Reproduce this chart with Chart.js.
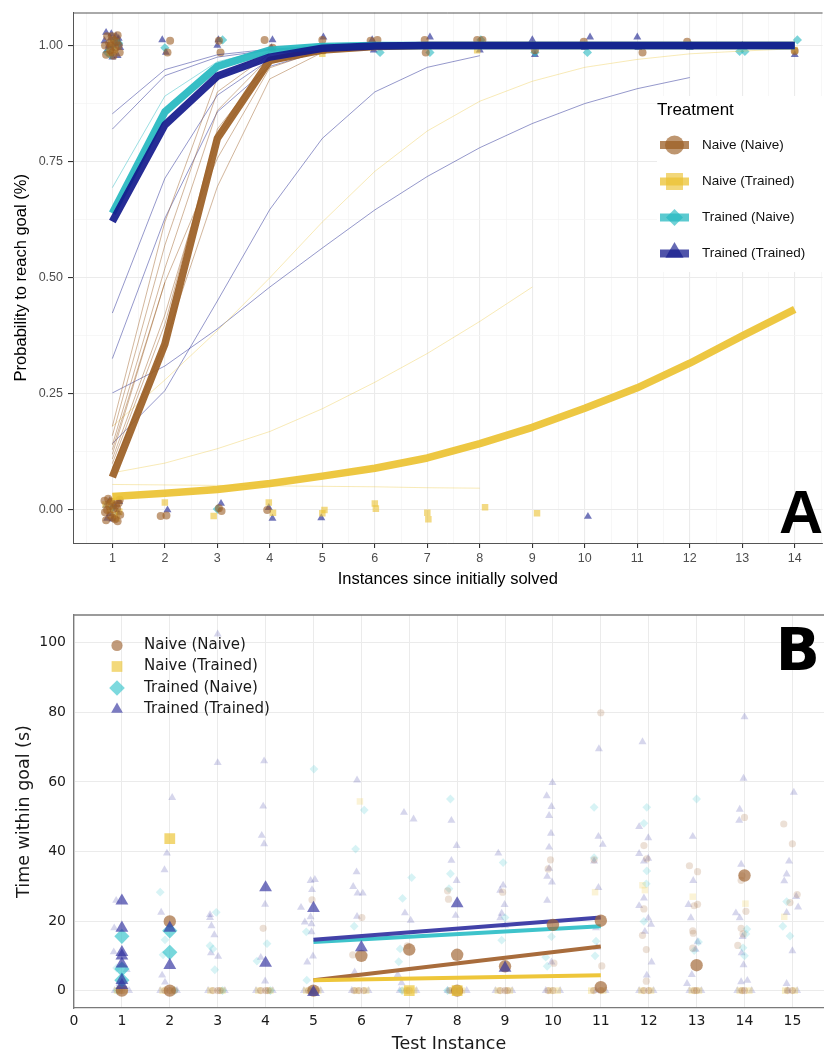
<!DOCTYPE html>
<html>
<head>
<meta charset="utf-8">
<script src="https://cdn.jsdelivr.net/npm/chart.js@4.4.1/dist/chart.umd.min.js"></script>
<style>
  html, body { margin: 0; padding: 0; background: #fff; }
  #wrap { position: relative; width: 824px; height: 1055px; }
  #boxA { position: absolute; left: 0; top: 0; }
  #boxB { position: absolute; left: 0; top: 592px; }
</style>
</head>
<body>
<div id="wrap">
  <div id="boxA"><canvas id="chartA" width="824" height="592"></canvas></div>
  <div id="boxB"><canvas id="chartB" width="824" height="463"></canvas></div>
</div>
<script>
// ---------------- data : panel A ----------------
const treatments = ['Naive (Naive)', 'Naive (Trained)', 'Trained (Naive)', 'Trained (Trained)'];
const instancesA = [1, 2, 3, 4, 5, 6, 7, 8, 9, 10, 11, 12, 13, 14];
const yTicksA = [0, 0.25, 0.5, 0.75, 1];

// model means, one value per instance (starting at 1)
const meanNaiveNaive = [0.071, 0.357, 0.80, 0.968, 0.99, 0.998, 1, 1, 1, 1, 1, 1, 1, 1];
const meanNaiveTrained = [0.029, 0.036, 0.044, 0.057, 0.073, 0.090, 0.112, 0.143, 0.178, 0.219, 0.263, 0.316, 0.375, 0.432];
const meanTrainedNaive = [0.639, 0.857, 0.955, 0.99, 0.998, 1, 1, 1, 1, 1, 1, 1, 1, 1];
const meanTrainedTrained = [0.621, 0.829, 0.934, 0.975, 0.994, 0.999, 1, 1, 1, 1, 1, 1, 1, 1];

// individual curves
const indivNaiveNaive = [
  [0.18, 0.62, 0.93, 0.988, 0.998, 1],
  [0.16, 0.57, 0.90, 0.982, 0.997],
  [0.14, 0.52, 0.86, 0.975, 0.995],
  [0.13, 0.49, 0.757, 0.952, 0.99],
  [0.11, 0.42, 0.80, 0.96, 0.993],
  [0.09, 0.36, 0.696, 0.928, 0.985],
  [0.12, 0.49],
  [0.10, 0.40, 0.82, 0.965]
];
const indivNaiveTrained = [
  [0.18, 0.28, 0.386, 0.50, 0.62, 0.729, 0.816, 0.88, 0.923, 0.953, 0.97, 0.982, 0.988, 0.993],
  [0.08, 0.101, 0.132, 0.169, 0.218, 0.275, 0.337, 0.406, 0.48],
  [0.055, 0.054, 0.053, 0.052, 0.051, 0.05, 0.048, 0.047]
];
const indivTrainedNaive = [
  [0.694, 0.891, 0.965, 0.992, 0.999, 1]
];
const indivTrainedTrained = [
  [0.853, 0.948, 0.98, 0.992, 0.998, 1],
  [0.82, 0.935, 0.975, 0.99, 0.997],
  [0.424, 0.714, 0.893, 0.97, 0.992, 0.998],
  [0.326, 0.628, 0.857, 0.955, 0.988],
  [0.252, 0.31, 0.39, 0.48, 0.564, 0.646, 0.718, 0.78, 0.832, 0.875, 0.907, 0.931],
  [0.143, 0.257, 0.45, 0.647, 0.80, 0.90, 0.953, 0.978]
];

// observed outcomes (jittered), [x, y]
const obsNaiveNaive = [
  [0.97,1.0],[1.03,1.012],[1.0,0.985],[1.06,0.995],[0.94,1.005],[1.02,0.978],[1.08,1.008],[0.99,1.02],[0.96,0.99],
  [0.86,1.0],[0.9,1.02],[1.12,1.0],[1.14,0.985],[0.88,0.98],[1.1,1.022],
  [2.1,1.01],[2.05,0.985],[3.03,1.01],[3.06,0.985],[3.9,1.012],[4.05,0.995],[5.0,1.012],[5.02,0.99],[5.92,1.01],
  [6.05,1.012],[6.95,1.012],[6.97,0.985],[7.95,1.012],[8.05,1.012],[9.05,0.99],[9.98,1.008],[11.1,0.985],[11.95,1.008],[14.0,0.988],
  [0.96,-0.012],[1.02,0.002],[1.05,-0.02],[0.98,0.018],[1.07,0.01],[1.0,-0.016],[0.94,0.008],
  [0.85,0.02],[0.88,-0.022],[1.12,0.015],[1.15,-0.01],[0.9,0.0],[1.1,-0.024],[0.86,-0.005],[1.14,0.022],[0.92,0.024],[1.09,0.004],
  [1.92,-0.013],[2.03,-0.012],[3.03,0.004],[3.08,-0.002],[3.95,0.0]
];
const obsNaiveTrained = [
  [0.98,1.005],[1.05,0.99],[0.95,0.985],[5.0,0.982],[7.95,0.99],[14.0,0.99],
  [0.97,0.015],[1.04,-0.01],[1.0,0.02],[1.08,-0.018],[0.95,0.0],[0.87,0.012],[1.13,-0.004],
  [2.0,0.016],[2.93,-0.013],[3.98,0.016],[4.06,-0.006],[5.04,0.0],[5.0,-0.007],[6.0,0.014],[6.02,0.003],
  [7.0,-0.006],[7.02,-0.02],[8.1,0.006],[9.09,-0.007]
];
const obsTrainedNaive = [
  [0.96,0.98],[1.04,1.01],[1.0,0.995],[0.9,0.985],[1.12,1.005],[2.0,0.995],[3.1,1.012],[6.1,0.985],[7.05,0.985],[8.02,1.012],[9.05,0.985],
  [10.05,0.985],[12.02,1.0],[12.95,0.987],[13.05,0.987],[14.05,1.012],[1.0,0.005],[3.0,0.002]
];
const obsTrainedTrained = [
  [0.98,1.025],[1.02,1.0],[0.93,1.0],[1.07,1.02],[1.0,0.975],[1.05,1.005],[0.97,1.015],
  [0.85,1.01],[0.9,0.99],[1.12,1.015],[1.15,0.995],[0.88,1.028],[1.1,0.978],[1.13,1.005],
  [1.95,1.012],[2.02,0.985],[3.0,1.0],[3.02,1.012],[4.05,1.012],[4.03,0.995],[5.02,1.018],[5.95,1.012],[5.98,0.99],
  [7.05,1.018],[8.0,0.99],[9.0,1.012],[9.05,0.98],[10.1,1.018],[10.0,0.995],[11.0,1.018],[11.02,0.995],[12.0,0.995],
  [13.0,1.0],[14.0,0.98],
  [0.96,-0.008],[1.03,0.012],[1.0,-0.02],[0.88,0.01],[1.1,-0.005],[0.9,-0.018],[1.13,0.018],[0.95,0.02],
  [2.05,0.0],[3.07,0.014],[3.98,0.005],[4.05,-0.018],[4.98,-0.017],[10.06,-0.014]
];

// ---------------- data : panel B ----------------
const testInstances = [0, 1, 2, 3, 4, 5, 6, 7, 8, 9, 10, 11, 12, 13, 14, 15];
const yTicksB = [0, 20, 40, 60, 80, 100];

// fitted lines, from instance 5 to 11
const fitX = [5, 11];
const fitNaiveNaive = [3.0, 12.7];
const fitNaiveTrained = [3.0, 4.4];
const fitTrainedNaive = [14.0, 18.5];
const fitTrainedTrained = [14.6, 21.0];

// highlighted individuals, [x, y]
const bigNaiveNaive = [[2,19.9],[6,10.0],[7,11.8],[8,10.3],[9,7.0],[10,18.9],[11,20.1],[11,1.0],[13,7.3],[14,33.1],[1,0],[2,0],[5,0],[8,0]];
const bigNaiveTrained = [[2,43.7],[7,0],[8,0]];
const bigTrainedNaive = [[1,15.6],[1,6.2],[1,3.0],[2,17.2],[2,11.0]];
const bigTrainedTrained = [[1,25.8],[1,18.0],[1,11.0],[1,10.0],[1,7.7],[1,3.0],[1,1.5],[2,18.0],[2,7.3],[4,29.6],[4,7.9],[5,23.7],[5,-0.5],[6,12.4],[8,25.0],[9,6.5]];

// all other individuals, [x, y]
const restNaiveNaive = [
  [3.95,17.9],[4.97,26.1],[5.82,10.3],[6.01,21.0],[6.96,12.9],[7.8,28.7],[7.82,26.3],[9.95,37.6],[9.9,35.0],[10.02,7.9],
  [8.95,28.3],[10.86,37.6],[11.02,7.1],[11.0,79.9],[11.9,41.7],[11.96,37.9],[11.9,23.5],[11.87,15.9],[11.95,11.8],[11.95,2.7],
  [12.85,35.9],[13.02,34.2],[12.95,24.4],[13.02,24.8],[12.92,17.2],[12.93,16.5],[12.92,12.2],[14.0,49.8],[13.93,31.7],[13.95,33.0],
  [14.03,22.8],[13.93,17.9],[13.97,16.3],[13.86,13.0],[14.82,47.9],[15.0,42.2],[15.1,27.6],[14.95,25.3]
];
const restNaiveTrained = [[5.97,54.4],[11.87,30.3],[11.92,28.9],[10.88,28.3],[12.92,27.0],[14.02,25.0],[14.83,21.2]];
const restTrainedNaive = [
  [1.8,28.3],[1.9,14.6],[1.86,10.3],[0.89,6.5],[2.84,12.9],[2.9,12.0],[2.94,6.0],[2.97,22.5],[4.03,13.5],[3.82,8.5],
  [4.85,16.9],[4.86,3.0],[5.01,63.7],[5.88,40.7],[5.85,18.5],[6.06,51.9],[6.86,26.5],[7.05,32.5],[6.78,8.3],[6.81,12.0],
  [7.86,55.1],[7.86,33.6],[7.83,29.3],[8.96,36.8],[8.93,14.5],[9.0,21.0],[9.97,15.5],[9.85,9.6],[9.88,7.0],[10.86,52.7],
  [10.86,38.2],[10.88,10.0],[10.9,14.2],[11.96,52.7],[11.9,48.1],[11.96,34.4],[11.9,19.9],[11.95,30.7],[13.0,55.1],[13.04,14.0],
  [12.95,11.5],[14.05,17.7],[14.03,16.3],[13.97,12.3],[14.0,10.0],[14.8,18.5],[14.95,15.7],[14.88,25.6]
];
const restTrainedTrained = [
  [0.88,25.9],[0.84,18.0],[0.83,11.1],[1.1,6.0],[0.95,2.0],
  [2.05,55.5],[1.94,39.5],[1.89,34.7],[1.82,22.5],[1.84,4.4],[1.9,2.4],
  [3.0,102.5],[3.0,65.5],[2.84,21.8],[2.84,21.0],[2.87,18.6],[2.93,16.0],[2.86,10.8],[3.01,9.8],
  [3.97,66.0],[3.95,53.0],[3.92,44.6],[3.97,42.2],[3.99,24.8],[3.9,9.5],[3.99,2.7],
  [4.74,23.9],[4.82,19.7],[4.94,31.6],[5.03,31.9],[4.97,29.0],[4.94,21.2],[4.96,19.2],[4.99,9.9],[4.87,8.2],[4.96,16.9],
  [5.91,60.5],[5.83,29.9],[5.9,34.1],[5.92,28.0],[6.03,28.0],[5.91,21.3],[5.86,5.3],
  [6.89,51.2],[7.09,49.3],[6.91,22.3],[7.03,20.2],[6.76,4.6],[6.84,2.2],
  [7.88,48.9],[7.88,37.4],[7.99,41.7],[7.99,31.6],[7.97,21.6],
  [8.86,39.5],[8.96,30.3],[8.9,28.8],[8.99,24.7],[8.93,22.2],[8.9,20.9],[9.0,18.7],
  [9.99,59.8],[9.87,56.0],[9.97,52.9],[9.92,50.3],[9.96,45.2],[9.92,41.2],[9.92,35.1],[9.88,32.8],[9.98,31.2],[9.88,25.9],[9.97,8.2],
  [10.96,69.5],[10.95,44.3],[11.04,42.0],[10.86,37.2],[10.95,29.6],[10.9,18.0],[10.92,12.4],
  [11.87,71.5],[11.8,47.1],[11.99,43.9],[11.8,39.4],[11.9,37.2],[11.99,38.0],[11.9,26.6],[11.8,24.4],[11.99,20.8],[12.05,19.0],
  [11.92,17.0],[11.96,4.4],[12.06,8.2],
  [12.92,44.3],[12.93,31.6],[12.83,24.7],[12.88,20.9],[12.98,11.8],[13.02,14.0],[12.8,2.0],[12.9,4.6],
  [14.0,78.7],[13.98,61.0],[13.9,52.1],[13.89,48.9],[13.93,36.3],[13.82,22.3],[13.9,20.9],[13.96,15.5],[13.98,7.4],[13.94,10.8],
  [14.06,2.9],[13.93,2.5],
  [15.03,57.0],[14.93,37.2],[14.88,33.5],[14.83,31.5],[15.08,27.0],[15.12,24.0],[14.88,22.4],[15.0,11.4],[14.88,2.0]
];
// individuals with 0 s, x positions only
const zeroNaiveNaive = [0.95,1.0,1.9,2.0,2.1,2.9,3.0,3.05,3.9,4.0,4.05,4.9,5.0,5.85,5.95,6.05,6.95,7.0,7.85,7.95,8.05,8.9,9.0,9.05,9.9,10.0,10.85,11.0,11.9,12.0,12.95,13.0,13.95,14.0,14.9,15.0];
const zeroNaiveTrained = [0.9,1.05,1.85,2.05,2.85,3.1,3.85,4.1,4.85,5.1,5.9,6.1,6.9,7.1,7.9,8.1,8.85,9.1,9.95,10.1,10.8,11.05,11.85,12.05,12.9,13.05,13.9,14.1,14.85,15.05];
const zeroTrainedNaive = [0.9,2.1,3.1,4.1,4.95,6.85,7.8];
const zeroTrainedTrained = [0.85,1.15,1.8,2.15,2.8,3.15,3.8,4.15,4.8,5.15,5.8,6.15,6.8,7.15,7.8,8.2,8.8,9.15,9.85,10.15,10.9,11.1,11.8,12.1,12.85,13.1,13.85,14.15,14.9,15.1];

// ---------------- helpers ----------------
const pts = list => list.map(p => ({ x: p[0], y: p[1] }));
const curve = vals => vals.map((v, i) => ({ x: instancesA[i], y: v }));
const zeros = xs => xs.map(x => ({ x: x, y: 0 }));
const fit = vals => vals.map((v, i) => ({ x: fitX[i], y: v }));

const famA = "'Liberation Sans', Arial, sans-serif";
const famB = "'DejaVu Sans', sans-serif";
const shapes = ['circle', 'rect', 'rectRot', 'triangle'];

// panel A colours
const colA = ['155,94,36', '235,194,50', '37,184,192', '20,26,140'];
// panel B colours
const colB = ['160,102,52', '236,196,52', '55,196,204', '52,52,160'];
const lineB = ['#A86C3C', '#EEC63A', '#3EC3CB', '#4242A8'];

// ---------------- panel A ----------------
const dsA = [];
[obsNaiveNaive, obsNaiveTrained, obsTrainedNaive, obsTrainedTrained].forEach((o, k) => {
  dsA.push({
    data: pts(o), pointStyle: shapes[k], pointRadius: k === 0 ? 4 : 4.6,
    backgroundColor: 'rgba(' + colA[k] + ',0.6)', borderWidth: 0, order: 30
  });
});
[indivNaiveNaive, indivNaiveTrained, indivTrainedNaive, indivTrainedTrained].forEach((group, k) => {
  group.forEach(vals => {
    dsA.push({
      data: curve(vals), showLine: true, pointRadius: 0, borderWidth: 1,
      borderColor: 'rgba(' + colA[k] + ',' + (k === 1 ? 0.35 : 0.45) + ')', order: 20
    });
  });
});
[meanNaiveNaive, meanNaiveTrained, meanTrainedNaive, meanTrainedTrained].forEach((vals, k) => {
  dsA.push({
    data: curve(vals), showLine: true, pointRadius: 0, borderWidth: 7.5,
    borderColor: 'rgba(' + colA[k] + ',0.92)', borderJoinStyle: 'round', order: 4 - k
  });
});

const gridXA = [];
instancesA.forEach(v => gridXA.push(v - 0.5, v));
gridXA.push(instancesA[instancesA.length - 1] + 0.5);
const gridYA = [];
yTicksA.forEach((v, i) => { if (i > 0) gridYA.push((v + yTicksA[i - 1]) / 2); gridYA.push(v); });

const isMajXA = v => instancesA.includes(v);
const isMajYA = v => yTicksA.includes(v);

const panelAExtras = {
  id: 'panelAExtras',
  afterDraw(chart) {
    const ctx = chart.ctx, a = chart.chartArea;
    ctx.save();
    ctx.strokeStyle = '#555';
    ctx.lineWidth = 1;
    ctx.beginPath();
    ctx.moveTo(a.left, a.top + 0.5);
    ctx.lineTo(a.right, a.top + 0.5);
    ctx.stroke();

    // legend
    ctx.fillStyle = '#fff';
    ctx.fillRect(657, 96, 167, 176);
    ctx.fillStyle = '#000';
    ctx.font = '17px ' + famA;
    ctx.textBaseline = 'middle';
    ctx.textAlign = 'left';
    ctx.fillText('Treatment', 657, 110);
    const rows = [145, 181.5, 217.5, 253.5];
    const rad = [9.5, 12, 8.5, 10.5];
    treatments.forEach((t, k) => {
      const y = rows[k];
      ctx.strokeStyle = 'rgba(' + colA[k] + ',0.75)';
      ctx.lineWidth = 8;
      ctx.beginPath();
      ctx.moveTo(660, y);
      ctx.lineTo(689, y);
      ctx.stroke();
      ctx.fillStyle = 'rgba(' + colA[k] + ',0.65)';
      Chart.helpers.drawPoint(ctx, { pointStyle: shapes[k], radius: rad[k], rotation: 0, borderWidth: 0 }, 674.5, k === 3 ? y - 1 : y);
      ctx.fillStyle = '#111';
      ctx.font = '13.5px ' + famA;
      ctx.fillText(t, 702, y);
    });

    ctx.fillStyle = '#000';
    ctx.font = 'bold 61px ' + famA;
    ctx.textAlign = 'right';
    ctx.textBaseline = 'alphabetic';
    ctx.fillText('A', 823, 533);
    ctx.restore();
  }
};

new Chart(document.getElementById('chartA'), {
  type: 'scatter',
  data: { datasets: dsA },
  options: {
    responsive: false,
    animation: false,
    events: [],
    layout: { autoPadding: false, padding: { top: 10, right: 0, left: 0, bottom: 0 } },
    plugins: { legend: { display: false }, tooltip: { enabled: false } },
    scales: {
      x: {
        type: 'linear', min: 0.25, max: 14.53,
        afterBuildTicks: s => { s.ticks = gridXA.map(v => ({ value: v })); },
        afterFit: s => { s.height = 49; },
        ticks: {
          autoSkip: false, maxRotation: 0, padding: 3,
          color: '#4D4D4D', font: { family: famA, size: 12.5 },
          callback: v => (isMajXA(v) ? String(v) : '')
        },
        grid: {
          color: c => (isMajXA(c.tick.value) ? '#EBEBEB' : '#F4F4F4'),
          lineWidth: c => (isMajXA(c.tick.value) ? 1.1 : 0.7),
          tickLength: 5,
          tickColor: c => (isMajXA(c.tick.value) ? '#333' : 'rgba(0,0,0,0)')
        },
        border: { display: true, color: '#555', width: 1 },
        title: {
          display: true, text: 'Instances since initially solved', color: '#000',
          font: { family: famA, size: 16.5 }, padding: { top: 0, bottom: 3 }
        }
      },
      y: {
        type: 'linear', min: -0.071, max: 1.071,
        afterBuildTicks: s => { s.ticks = gridYA.map(v => ({ value: v })); },
        afterFit: s => { s.width = 73; },
        ticks: {
          autoSkip: false, padding: 5,
          color: '#4D4D4D', font: { family: famA, size: 12.5 },
          callback: v => (isMajYA(v) ? v.toFixed(2) : '')
        },
        grid: {
          color: c => (isMajYA(c.tick.value) ? '#EBEBEB' : '#F4F4F4'),
          lineWidth: c => (isMajYA(c.tick.value) ? 1.1 : 0.7),
          tickLength: 5,
          tickColor: c => (isMajYA(c.tick.value) ? '#333' : 'rgba(0,0,0,0)')
        },
        border: { display: true, color: '#555', width: 1 },
        title: {
          display: true, text: 'Probability to reach goal (%)', color: '#000',
          font: { family: famA, size: 16.5 }, padding: { top: 12, bottom: 0 }
        }
      }
    }
  },
  plugins: [panelAExtras]
});

// ---------------- panel B ----------------
const dsB = [];
const fainR = [3.6, 4.6, 4.4, 4.6];
const bigR = [6.2, 7.6, 7.6, 7.4];
[restNaiveNaive, restNaiveTrained, restTrainedNaive, restTrainedTrained].forEach((o, k) => {
  dsB.push({
    data: pts(o), pointStyle: shapes[k], pointRadius: fainR[k],
    backgroundColor: 'rgba(' + colB[k] + ',0.2)', borderWidth: 0, order: 30
  });
});
[zeroNaiveNaive, zeroNaiveTrained, zeroTrainedNaive, zeroTrainedTrained].forEach((o, k) => {
  dsB.push({
    data: zeros(o), pointStyle: shapes[k], pointRadius: fainR[k],
    backgroundColor: 'rgba(' + colB[k] + ',' + (k === 3 ? 0.18 : 0.28) + ')', borderWidth: 0, order: 31
  });
});
[fitNaiveNaive, fitNaiveTrained, fitTrainedNaive, fitTrainedTrained].forEach((vals, k) => {
  dsB.push({
    data: fit(vals), showLine: true, pointRadius: 0, borderWidth: 4,
    borderColor: lineB[k], order: 20 - k
  });
});
[bigNaiveNaive, bigNaiveTrained, bigTrainedNaive, bigTrainedTrained].forEach((o, k) => {
  dsB.push({
    data: pts(o), pointStyle: shapes[k], pointRadius: bigR[k],
    backgroundColor: 'rgba(' + colB[k] + ',0.68)', borderWidth: 0, order: 10 - k
  });
});

const panelBExtras = {
  id: 'panelBExtras',
  afterDraw(chart) {
    const ctx = chart.ctx, a = chart.chartArea;
    ctx.save();
    ctx.strokeStyle = '#7a7a7a';
    ctx.lineWidth = 1.3;
    ctx.beginPath();
    ctx.moveTo(a.left, a.top);
    ctx.lineTo(a.right, a.top);
    ctx.stroke();

    const rows = [53.5, 74.5, 96, 117.3];
    const rad = [5.6, 7.6, 7.8, 6.8];
    ctx.textBaseline = 'middle';
    ctx.textAlign = 'left';
    treatments.forEach((t, k) => {
      ctx.fillStyle = 'rgba(' + colB[k] + ',0.65)';
      Chart.helpers.drawPoint(ctx, { pointStyle: shapes[k], radius: rad[k], rotation: 0, borderWidth: 0 }, 117, rows[k]);
      ctx.fillStyle = '#1a1a1a';
      ctx.font = '15px ' + famB;
      ctx.fillText(t, 144, rows[k]);
    });

    ctx.fillStyle = '#000';
    ctx.font = 'bold 58px ' + famB;
    ctx.textAlign = 'right';
    ctx.textBaseline = 'alphabetic';
    ctx.fillText('B', 820, 78);
    ctx.restore();
  }
};

new Chart(document.getElementById('chartB'), {
  type: 'scatter',
  data: { datasets: dsB },
  options: {
    responsive: false,
    animation: false,
    events: [],
    layout: { autoPadding: false, padding: { top: 23, right: 0, left: 0, bottom: 0 } },
    plugins: { legend: { display: false }, tooltip: { enabled: false } },
    scales: {
      x: {
        type: 'linear', min: 0, max: 15.66,
        afterBuildTicks: s => { s.ticks = testInstances.map(v => ({ value: v })); },
        afterFit: s => { s.height = 47; },
        ticks: {
          autoSkip: false, maxRotation: 0, padding: 5,
          color: '#1a1a1a', font: { family: famB, size: 14 }
        },
        grid: { color: '#EBEBEB', lineWidth: 1, drawTicks: false },
        border: { display: true, color: '#7a7a7a', width: 1.3 },
        title: {
          display: true, text: 'Test Instance', color: '#1a1a1a',
          font: { family: famB, size: 17.5 }, padding: { top: 0, bottom: 0 }
        }
      },
      y: {
        type: 'linear', min: -5, max: 108,
        afterBuildTicks: s => { s.ticks = yTicksB.map(v => ({ value: v })); },
        afterFit: s => { s.width = 74; },
        ticks: {
          autoSkip: false, padding: 8,
          color: '#1a1a1a', font: { family: famB, size: 14 }
        },
        grid: { color: '#EBEBEB', lineWidth: 1, drawTicks: false },
        border: { display: true, color: '#7a7a7a', width: 1.3 },
        title: {
          display: true, text: 'Time within goal (s)', color: '#1a1a1a',
          font: { family: famB, size: 17.5 }, padding: { top: 14, bottom: 0 }
        }
      }
    }
  },
  plugins: [panelBExtras]
});
</script>
</body>
</html>
